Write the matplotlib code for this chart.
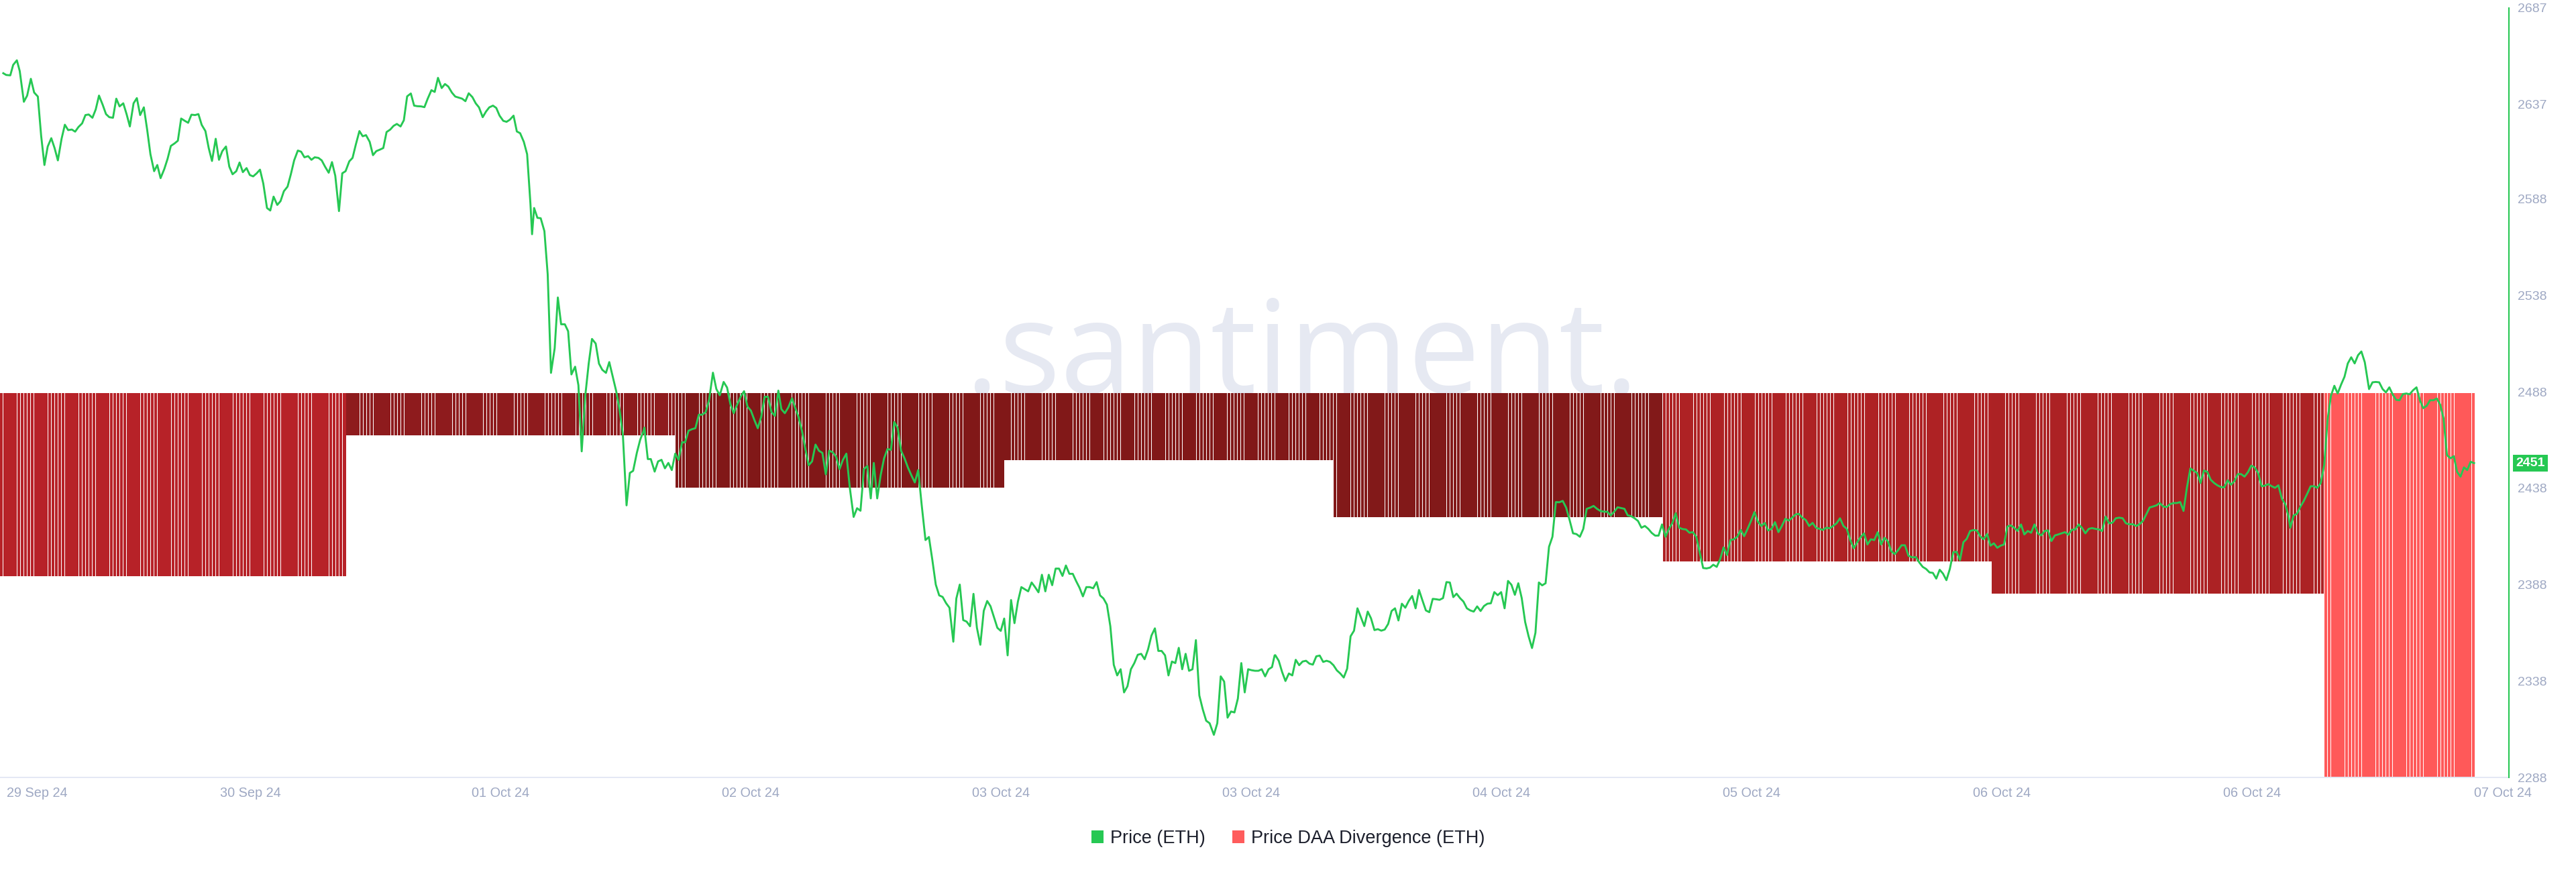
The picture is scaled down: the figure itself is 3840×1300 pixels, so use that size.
import numpy as np
import matplotlib
matplotlib.use("Agg")
import matplotlib.pyplot as plt
import matplotlib.transforms as mtransforms
from matplotlib.patches import Patch

plt.rcParams['font.family'] = ['Liberation Sans', 'DejaVu Sans']

# ---------------- data ----------------
# price (ETH, USD) : hours since chart start
price_hours = [
 0.24,0.45,0.75,0.96,1.23,1.44,1.74,1.98,2.25,2.49,2.76,3.00,3.24,3.48,3.74,3.98,4.22,4.49,4.73,4.97,
 5.24,5.48,5.72,5.99,6.23,6.47,6.74,6.98,7.22,7.49,7.73,7.97,8.24,8.48,8.72,8.99,9.23,9.47,9.74,9.98,
 10.22,10.49,10.73,10.97,11.24,11.47,11.71,11.98,12.22,12.46,12.73,12.97,13.21,13.48,13.72,13.96,14.23,14.47,14.71,14.98,
 15.22,15.46,15.73,15.97,16.21,16.48,16.72,16.96,17.23,17.47,17.71,17.98,18.22,18.46,18.72,18.96,19.20,19.47,19.71,19.95,
 20.22,20.46,20.70,20.97,21.21,21.45,21.72,21.96,22.20,22.47,22.71,22.95,23.22,23.46,23.70,23.97,24.21,24.45,24.72,24.96,
 25.20,25.47,25.71,25.94,26.21,26.45,26.69,26.96,27.20,27.44,27.71,27.95,28.19,28.46,28.70,28.94,29.21,29.45,29.69,29.96,
 30.20,30.44,30.71,30.95,31.19,31.46,31.70,31.94,32.21,32.45,32.69,32.96,33.20,33.43,33.70,33.94,34.18,34.45,34.69,34.93,
 35.20,35.44,35.68,35.95,36.19,36.43,36.70,36.94,37.18,37.45,37.69,37.93,38.20,38.44,38.68,38.80,38.95,39.19,39.43,39.70,
 39.94,40.18,40.45,40.68,40.92,41.19,41.43,41.67,41.94,42.18,42.42,42.69,42.93,43.17,43.44,43.68,43.92,44.19,44.43,44.67,
 44.94,45.18,45.42,45.69,45.93,46.17,46.44,46.68,46.92,
 46.99,47.24,47.46,47.74,47.99,48.24,48.49,48.74,48.99,49.24,49.49,49.74,49.96,50.21,50.46,50.71,50.96,51.21,51.46,51.71,
 51.99,52.24,52.49,52.77,53.02,53.27,53.51,53.76,54.01,54.26,54.51,54.76,55.01,55.26,55.51,55.76,56.01,56.26,56.51,56.76,
 56.98,57.23,57.48,57.76,57.98,58.23,58.48,58.73,58.97,59.22,59.47,59.72,59.97,60.22,60.47,60.72,60.97,61.22,61.47,61.72,
 61.97,62.25,62.50,62.75,63.00,63.25,63.50,63.72,63.97,64.22,64.47,64.72,64.97,65.21,65.46,65.71,65.96,66.21,66.46,66.71,
 66.96,67.21,67.49,67.74,67.99,68.24,68.49,68.74,68.99,69.24,69.52,69.74,69.99,70.24,70.49,70.74,70.99,71.24,71.49,71.74,
 71.99,72.23,72.48,72.73,72.98,73.23,73.48,73.73,73.98,74.23,74.48,74.73,74.98,75.23,75.48,75.73,75.98,76.23,76.48,76.73,
 76.98,77.23,77.48,77.73,77.98,78.23,78.47,78.72,78.97,79.22,79.47,79.72,79.97,80.22,80.47,80.72,80.97,81.22,81.47,81.72,
 81.97,82.22,82.47,82.72,82.97,83.22,83.47,83.72,83.97,84.22,84.47,84.71,84.96,85.21,85.46,85.71,85.96,86.21,86.46,86.71,
 86.96,87.21,87.46,87.71,87.96,88.21,88.52,88.77,89.02,89.27,89.52,89.77,90.02,90.27,90.52,90.77,91.02,91.27,91.52,91.77,
 92.01,92.26,92.51,92.76,92.95,
 93.00,93.25,93.50,93.74,93.99,94.24,94.49,94.74,94.99,95.24,95.49,95.74,95.99,96.24,96.49,96.74,96.99,97.24,97.49,97.74,
 97.99,98.24,98.49,98.74,98.99,99.24,99.49,99.74,99.98,100.23,100.48,100.73,100.98,101.23,101.48,101.73,101.98,102.23,102.48,102.73,
 102.98,103.23,103.48,103.73,103.98,104.23,104.48,104.73,104.98,105.23,105.48,105.73,105.98,106.22,106.47,106.72,106.97,107.22,107.47,107.72,
 107.97,108.22,108.47,108.72,108.97,109.22,109.47,109.72,109.97,110.22,110.47,110.72,110.97,111.22,111.47,111.72,111.97,112.22,112.46,112.71,
 112.96,113.21,113.46,113.71,113.96,114.21,114.46,114.71,114.96,115.21,115.46,115.71,115.96,116.21,116.46,116.71,116.96,117.21,117.46,117.71,
 117.96,118.21,118.46,118.70,118.95,119.20,119.45,119.70,119.95,120.20,120.45,120.70,120.95,121.20,121.45,121.70,121.95,122.20,122.45,122.70,
 122.95,123.20,123.45,123.70,123.95,124.20,124.45,124.70,124.94,125.19,125.44,125.69,125.94,126.19,126.44,126.69,126.94,127.19,127.44,127.69,
 127.94,128.19,128.44,128.69,128.94,129.19,129.44,129.69,129.94,130.19,130.44,130.69,130.94,131.18,131.43,131.68,131.93,132.18,132.43,132.68,
 132.93,133.18,133.43,133.68,133.93,134.18,134.43,134.68,134.93,135.18,135.43,135.68,135.93,136.18,136.43,136.68,136.93,137.18,137.42,137.67,
 137.92,138.17,138.42,138.67,138.92,139.17,139.42,
 139.47,139.72,139.96,140.21,140.46,140.71,140.95,141.20,141.45,141.69,141.94,142.19,142.44,142.68,142.93,143.18,143.42,143.67,143.92,144.16,
 144.41,144.66,144.91,145.15,145.40,145.65,145.89,146.14,146.39,146.63,146.88,147.13,147.38,147.62,147.87,148.12,148.36,148.61,148.86,149.10,
 149.35,149.60,149.85,150.09,150.34,150.59,150.83,151.08,151.33,151.58,151.82,152.07,152.32,152.56,152.81,153.06,153.30,153.55,153.80,154.05,
 154.29,154.54,154.79,155.03,155.28,155.53,155.78,156.02,156.27,156.52,156.76,157.01,157.26,157.50,157.75,158.00,158.25,158.49,158.74,158.99,
 159.23,159.48,159.73,159.97,160.22,160.47,160.72,160.96,161.21,161.46,161.70,161.95,162.20,162.45,162.69,162.94,163.19,163.43,163.68,163.93,
 164.17,164.42,164.67,164.92,165.16,165.41,165.66,165.90,166.15,166.40,166.65,166.89,167.02,167.26,167.51,167.76,168.00,168.25,168.50,168.75,
 168.99,169.24,169.49,169.73,169.98,170.23,170.47,170.72,170.97,171.21,171.46,171.71,171.96,172.20,172.45,172.76,173.01,173.25,173.50,173.75,
 173.99,174.24,174.49,174.74,174.98,175.23,175.48,175.72,175.97,176.22,176.47,176.71,176.96,177.21,177.45,177.70,177.95,178.19,178.44,178.69,
 178.94,179.18,179.43,179.68,179.92,180.17,180.42,
]
price_usd = [
 2653.2,2652.3,2652.1,2657.5,2659.9,2654.3,2638.4,2641.6,2650.3,2643.2,2641.1,2620.8,2605.6,2615.2,2619.5,2614.4,2608.0,2619.2,2626.5,2623.7,
 2624.0,2622.9,2625.3,2627.2,2631.5,2631.8,2630.1,2634.4,2641.6,2636.8,2632.0,2630.4,2630.1,2640.0,2636.0,2637.6,2632.0,2625.6,2637.6,2640.3,
 2631.5,2635.5,2624.0,2611.2,2602.4,2605.6,2598.8,2603.5,2608.8,2615.5,2616.8,2618.2,2629.7,2628.5,2627.5,2631.7,2631.5,2632.0,2626.4,2623.2,
 2614.4,2607.7,2619.2,2608.3,2612.8,2615.2,2604.8,2600.8,2602.4,2606.9,2601.9,2604.0,2600.4,2599.7,2601.3,2603.2,2596.0,2583.3,2582.0,2589.2,
 2584.9,2586.9,2592.0,2594.4,2600.8,2608.0,2613.1,2612.5,2609.6,2610.2,2608.3,2609.6,2609.3,2608.0,2604.8,2601.6,2607.1,2600.0,2581.7,2601.3,
 2602.4,2607.5,2609.3,2616.0,2623.2,2620.5,2621.1,2617.6,2610.7,2612.8,2613.6,2614.4,2622.7,2624.0,2625.9,2626.9,2625.6,2628.8,2641.2,2642.7,
 2636.4,2636.1,2636.0,2635.6,2640.0,2644.4,2643.5,2650.8,2645.5,2647.6,2646.3,2643.1,2641.1,2640.6,2640.0,2638.7,2642.8,2640.8,2637.6,2635.5,
 2630.4,2633.3,2635.5,2636.4,2635.2,2631.2,2628.5,2628.0,2629.1,2631.2,2623.0,2622.1,2617.6,2611.2,2585.7,2569.7,2583.3,2578.2,2578.0,2571.3,
 2548.9,2497.8,2510.6,2536.9,2523.0,2523.0,2519.4,2497.0,2501.0,2491.4,2457.1,2486.6,2502.6,2515.4,2513.0,2502.6,2499.4,2497.8,2503.4,2496.2,
 2488.2,2478.7,2465.9,2429.1,2445.9,2447.0,2456.3,2463.0,2467.5,
 2469.4,2453.1,2453.1,2446.6,2451.9,2452.7,2448.3,2451.1,2447.4,2455.9,2452.7,2461.8,2461.8,2467.8,2468.6,2469.1,2476.1,2476.1,2477.4,2483.8,
 2497.9,2489.4,2486.2,2493.1,2490.2,2481.4,2476.9,2481.4,2485.4,2488.3,2480.3,2478.2,2473.4,2469.1,2475.0,2485.4,2485.4,2477.4,2475.5,2488.6,
 2479.0,2476.9,2479.8,2484.6,2479.8,2475.0,2467.8,2458.3,2449.9,2451.9,2460.6,2457.4,2456.3,2445.2,2457.4,2456.7,2454.3,2447.9,2452.7,2455.9,
 2438.3,2423.1,2427.6,2426.3,2447.9,2449.5,2432.7,2451.1,2432.7,2444.7,2453.5,2458.3,2457.9,2472.3,2469.4,2457.4,2453.5,2448.7,2444.7,2441.0,
 2447.4,2429.5,2411.1,2412.7,2400.8,2388.0,2382.4,2381.6,2378.4,2376.0,2358.4,2380.8,2388.0,2369.6,2368.8,2366.4,2383.2,2365.6,2356.8,2374.4,
 2379.5,2376.8,2371.2,2365.6,2364.0,2370.4,2351.3,2380.0,2368.0,2379.2,2386.7,2385.6,2384.5,2389.1,2386.7,2384.0,2393.1,2384.5,2393.1,2387.7,
 2396.3,2396.3,2392.5,2397.9,2393.6,2393.6,2389.9,2386.4,2381.9,2386.7,2386.7,2386.1,2389.3,2382.4,2380.8,2377.6,2366.4,2346.4,2340.9,2344.1,
 2332.1,2335.3,2344.1,2347.3,2351.6,2352.1,2349.3,2354.4,2361.6,2365.3,2353.6,2353.6,2351.3,2340.9,2348.1,2347.3,2355.2,2344.1,2352.1,2343.3,
 2344.1,2359.2,2330.5,2323.3,2317.4,2316.1,2310.1,2316.1,2340.4,2337.7,2319.0,2322.2,2321.7,2328.9,2347.3,2332.1,2344.1,2343.6,2343.3,2343.3,
 2344.1,2340.4,2344.1,2345.2,2351.3,
 2351.4,2348.5,2342.6,2338.0,2341.9,2340.9,2349.0,2346.2,2348.1,2348.5,2347.0,2346.5,2350.8,2351.2,2347.9,2348.5,2347.9,2346.2,2343.5,2341.9,
 2339.8,2344.4,2361.2,2364.1,2375.7,2371.1,2366.5,2374.0,2370.5,2364.4,2364.9,2364.1,2364.7,2367.6,2374.3,2375.7,2369.4,2378.1,2376.0,2379.5,
 2382.1,2375.7,2385.2,2379.8,2374.6,2373.7,2380.6,2380.4,2380.1,2381.0,2389.3,2389.1,2381.5,2383.3,2381.0,2379.2,2375.7,2374.6,2374.0,2376.7,
 2374.3,2376.9,2378.1,2378.3,2384.1,2382.5,2384.1,2375.7,2389.9,2387.9,2382.7,2388.7,2381.0,2368.6,2361.2,2355.1,2363.0,2389.1,2387.6,2388.7,
 2407.6,2412.8,2430.8,2430.7,2431.4,2427.9,2421.5,2414.6,2414.2,2412.8,2416.9,2427.3,2427.9,2428.8,2427.3,2426.2,2425.8,2425.8,2423.9,2425.8,
 2428.1,2427.7,2427.3,2423.9,2423.5,2422.4,2421.0,2417.5,2418.4,2416.9,2414.8,2413.4,2413.4,2419.2,2412.8,2416.9,2419.8,2425.0,2417.5,2416.8,
 2416.6,2414.9,2415.2,2412.8,2404.7,2396.6,2396.4,2396.8,2398.3,2397.2,2401.2,2407.3,2403.3,2411.1,2411.5,2412.8,2416.3,2413.1,2416.9,2421.0,
 2425.6,2420.7,2418.4,2420.0,2416.1,2416.9,2420.4,2415.2,2418.4,2422.1,2421.2,2422.7,2424.4,2424.7,2422.7,2421.5,2418.4,2420.0,2417.5,2416.9,
 2416.3,2417.5,2417.2,2418.4,2419.8,2422.4,2418.4,2416.9,2411.1,2406.8,2409.9,2412.6,2414.6,2408.8,2411.5,2411.1,2415.2,2408.8,2412.3,2410.5,
 2405.3,2403.8,2405.9,2408.4,2408.4,2403.0,2402.2,
 2402.2,2402.2,2399.5,2397.2,2396.1,2394.3,2394.1,2391.1,2395.7,2393.7,2390.3,2396.1,2404.8,2405.0,2400.7,2410.0,2411.7,2415.8,2416.3,2416.1,
 2412.9,2411.5,2414.3,2408.2,2409.4,2407.1,2408.2,2408.8,2418.1,2418.7,2417.5,2415.8,2419.2,2414.0,2415.8,2414.9,2419.2,2414.6,2413.5,2415.8,
 2416.1,2410.6,2413.5,2414.0,2414.6,2415.2,2413.8,2416.4,2416.6,2419.2,2417.5,2414.6,2416.9,2417.3,2416.9,2416.6,2415.8,2423.3,2419.8,2420.1,
 2422.4,2422.7,2422.4,2419.8,2419.3,2419.3,2418.4,2419.3,2421.0,2424.5,2428.0,2428.5,2429.1,2430.3,2428.5,2428.2,2429.7,2430.3,2430.3,2430.8,
 2426.2,2438.4,2448.2,2447.1,2445.9,2440.7,2447.1,2446.5,2442.4,2440.7,2439.5,2438.6,2438.4,2442.1,2439.8,2441.6,2445.3,2445.3,2444.0,2446.3,
 2449.7,2448.8,2445.9,2439.0,2439.3,2440.1,2439.0,2438.2,2439.5,2432.6,2429.7,2423.3,2417.5,2423.9,2424.7,2428.5,2431.4,2435.1,2439.0,2439.0,
 2438.2,2440.7,2450.0,2473.2,2485.9,2491.1,2487.1,2491.7,2495.8,2502.7,2505.9,2502.7,2507.0,2508.9,2503.3,2489.4,2492.9,2493.1,2492.9,2489.4,
 2487.7,2490.3,2486.5,2483.8,2483.6,2486.8,2487.1,2486.7,2488.8,2490.3,2483.6,2479.5,2480.7,2483.6,2483.6,2484.5,2481.3,2474.3,2455.2,2453.5,
 2454.6,2446.5,2444.0,2448.8,2447.4,2451.7,2451.0,
]
last_price = 2451

# Price-DAA divergence: one value per daily segment (hours since chart start)
div_start_hours = [0.0, 25.14, 49.24, 73.18, 97.25, 121.22, 145.24, 169.26]
div_end_hour = 180.5
div_values = [-47.7, -11.1, -24.7, -17.5, -32.3, -43.9, -52.2, -100.0]
div_colors = ["#b51b21", "#8a1315", "#7d1010", "#7d1010", "#7e1111", "#ac1a1d", "#aa1a1d", "#ff5454"]
bar_step_hours = 0.25

x_tick_hours = [2.7, 18.25, 36.5, 54.75, 73.0, 91.25, 109.5, 127.75, 146.0, 164.25, 182.5]
x_tick_labels = ["29 Sep 24", "30 Sep 24", "01 Oct 24", "02 Oct 24", "03 Oct 24", "03 Oct 24",
                 "04 Oct 24", "05 Oct 24", "06 Oct 24", "06 Oct 24", "07 Oct 24"]
y_ticks = [2288, 2338, 2388, 2438, 2488, 2538, 2588, 2637, 2687]
x_max_hour = 182.96

GREEN = "#26c853"
TICK_C = "#9ea8c3"

# ---------------- figure ----------------
fig = plt.figure(figsize=(38.4, 13), dpi=100)
ax = fig.add_axes([0.0, 0.10846, 0.97396, 0.88231])
ax2 = ax.twinx()

# watermark
ax.text(0.519, 0.5, ".santiment.", transform=ax.transAxes, ha="center", va="baseline",
        fontsize=138, color="#e6e9f2", family=["Open Sans", "DejaVu Sans"], zorder=0)

# divergence bars
bar_t = np.arange(0, div_end_hour, bar_step_hours)
seg_idx = np.searchsorted(div_start_hours, bar_t, side="right") - 1
bar_h = np.array(div_values)[seg_idx]
bar_c = [div_colors[i] for i in seg_idx]
ax.bar(bar_t, bar_h, width=bar_step_hours * 0.88, bottom=0, align="edge",
       color=bar_c, alpha=0.97, linewidth=0, zorder=1)
ax.set_ylim(-100, 100)
ax.set_xlim(0, x_max_hour)
ax.set_yticks([])

# price
ax2.plot(price_hours, price_usd, color=GREEN, lw=2.1, solid_joinstyle="round", zorder=3)
ax2.set_ylim(2288, 2687)
ax2.set_yticks(y_ticks, [str(v) for v in y_ticks])
ax2.tick_params(axis="y", length=0, pad=9, labelsize=14, labelcolor=TICK_C)

ax.set_xticks(x_tick_hours, x_tick_labels)
ax.tick_params(axis="x", length=0, pad=10, labelsize=14.3, labelcolor=TICK_C)

for s in ["top", "left", "right"]:
    ax.spines[s].set_visible(False)
ax.spines["bottom"].set_color("#e4e8f4")
ax.spines["bottom"].set_linewidth(1.4)
for s in ["top", "left", "bottom"]:
    ax2.spines[s].set_visible(False)
ax2.spines["right"].set_color(GREEN)
ax2.spines["right"].set_linewidth(1.5)

# last price tag
tr = mtransforms.blended_transform_factory(ax2.transAxes, ax2.transData)
ax2.text(1.0028, last_price, str(last_price), transform=tr, ha="left", va="center",
         color="white", fontsize=14, fontweight="bold", clip_on=False,
         bbox=dict(boxstyle="square,pad=0.22", fc=GREEN, ec="none"))

# legend
handles = [Patch(facecolor=GREEN, label="Price (ETH)"),
           Patch(facecolor="#ff5c5c", label="Price DAA Divergence (ETH)")]
fig.legend(handles=handles, loc="center", bbox_to_anchor=(0.5, 0.0385), ncol=2, frameon=False,
           fontsize=19.5, handlelength=0.66, handleheight=0.66, handletextpad=0.37,
           columnspacing=1.5, labelcolor="#1b1e2b", borderpad=0)

fig.savefig("out.png", dpi=100, facecolor="white")
